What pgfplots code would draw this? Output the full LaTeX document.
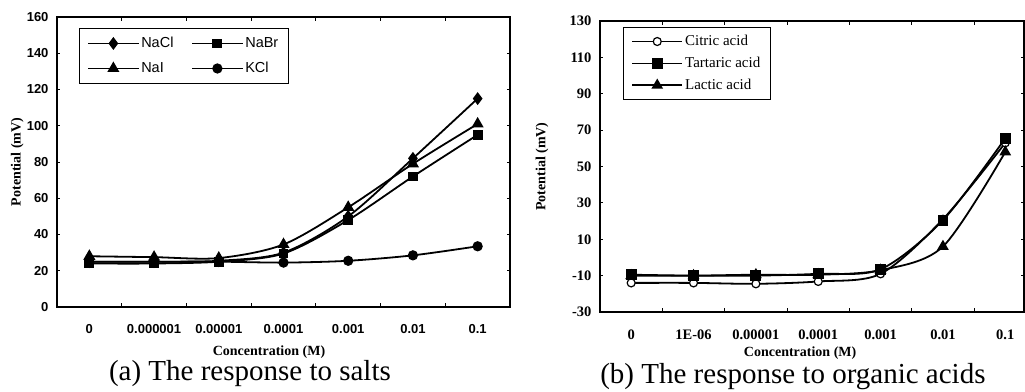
\documentclass[border=0pt]{standalone}
\usepackage{fontspec}
\setmainfont{Liberation Serif}
\setsansfont{Liberation Sans}
\usepackage{pgfplots}
\pgfplotsset{compat=1.18}
\begin{document}
\begin{tikzpicture}
\useasboundingbox (0pt,0pt) rectangle (1025pt,391pt);
\pgfplotsset{
  common/.style={
    scale only axis,
    clip mode=individual,
    anchor=south west,
    xmin=-0.5,
    xtick={0,...,6},
    major x tick style={draw=none},
    minor xtick={0.5,1.5,...,5.5},
    minor tick length=4pt,
    major tick length=3pt,
    tick align=inside,
    axis line style={line width=1.6pt},
    every tick/.style={black, line width=0.9pt},
    /pgf/number format/assume math mode=true,
    xticklabel style={yshift=-14pt},
    yticklabel style={xshift=-5pt},
    legend cell align=left,
    legend image code/.code={\draw[mark repeat=2,mark phase=2,##1] plot coordinates {(0pt,0pt) (25pt,0pt) (50pt,0pt)};},
    every axis plot/.append style={black, line width=1.8pt, smooth, tension=0.5, mark options={solid}},
  }
}
\begin{axis}[common,
  at={(57pt,84pt)}, width=453pt, height=290pt,
  xmax=6.5, ymin=0, ymax=160, ytick={0,20,...,160},
  xticklabels={0,0.000001,0.00001,0.0001,0.001,0.01,0.1},
  ticklabel style={font=\fontsize{13}{15}\sffamily\bfseries},
  xlabel={\fontsize{14}{16}\selectfont\bfseries Concentration (M)},
  ylabel={\fontsize{14}{16}\selectfont\bfseries Potential (mV)},
  xlabel style={at={(axis description cs:0.468,-0.155)}, anchor=center},
  ylabel style={at={(axis description cs:-0.088,0.5)}, anchor=center, rotate=0},
  legend columns=2,
  legend style={at={(axis description cs:0.0486,0.962)}, anchor=north west, draw=black, line width=0.9pt,
    font=\fontsize{14.5}{16}\sffamily, row sep=9pt, /tikz/every even column/.append style={column sep=16pt},
    inner xsep=8pt, inner ysep=7pt},
]
\addplot[mark=diamond*, mark size=5] coordinates {(0,25)(1,25)(2,25.5)(3,30)(4,50)(5,82)(6,115)};
\addlegendentry{NaCl}
\addplot[mark=square*, mark size=4] coordinates {(0,24)(1,24)(2,25)(3,29.5)(4,48)(5,72)(6,95)};
\addlegendentry{NaBr}
\addplot[mark=triangle*, mark size=5.2] coordinates {(0,28)(1,27.5)(2,27)(3,34.5)(4,55)(5,79)(6,101)};
\addlegendentry{NaI}
\addplot[mark=*, mark size=4.2] coordinates {(0,25)(1,25)(2,25)(3,24.5)(4,25.5)(5,28.5)(6,33.5)};
\addlegendentry{KCl}
\node at (axis description cs:0.426,-0.228) {\fontsize{29}{32}\selectfont (a) The response to salts};
\end{axis}

\begin{axis}[common,
  at={(600pt,79pt)}, width=424pt, height=291pt,
  xmax=6.3, ymin=-30, ymax=130, ytick={-30,-10,...,130},
  xticklabels={0,1E-06,0.00001,0.0001,0.001,0.01,0.1},
  ticklabel style={font=\fontsize{14.5}{16}\bfseries},
  xlabel={\fontsize{14}{16}\selectfont\bfseries Concentration (M)},
  ylabel={\fontsize{14}{16}\selectfont\bfseries Potential (mV)},
  xlabel style={at={(axis description cs:0.472,-0.141)}, anchor=center},
  ylabel style={at={(axis description cs:-0.137,0.5)}, anchor=center, rotate=0},
  legend style={at={(axis description cs:0.054,0.979)}, anchor=north west, draw=black, line width=0.9pt,
    font=\fontsize{15}{17}\selectfont, row sep=6pt, inner xsep=8pt, inner ysep=6pt},
]
\addplot[mark=*, mark size=4, mark options={fill=white, line width=1.2pt}] coordinates {(0,-14)(1,-14)(2,-14.5)(3,-13.2)(4,-9)(5,21)(6,63)};
\addlegendentry{Citric acid}
\addplot[mark=square*, mark size=4.5] coordinates {(0,-9.5)(1,-10)(2,-10)(3,-9)(4,-6.5)(5,20.5)(6,65.5)};
\addlegendentry{Tartaric acid}
\addplot[mark=triangle*, mark size=5] coordinates {(0,-10)(1,-10)(2,-9.5)(3,-9.5)(4,-7)(5,6)(6,58)};
\addlegendentry{Lactic acid}
\node at (axis description cs:0.455,-0.223) {\fontsize{29}{32}\selectfont (b) The response to organic acids};
\end{axis}
\end{tikzpicture}
\end{document}
